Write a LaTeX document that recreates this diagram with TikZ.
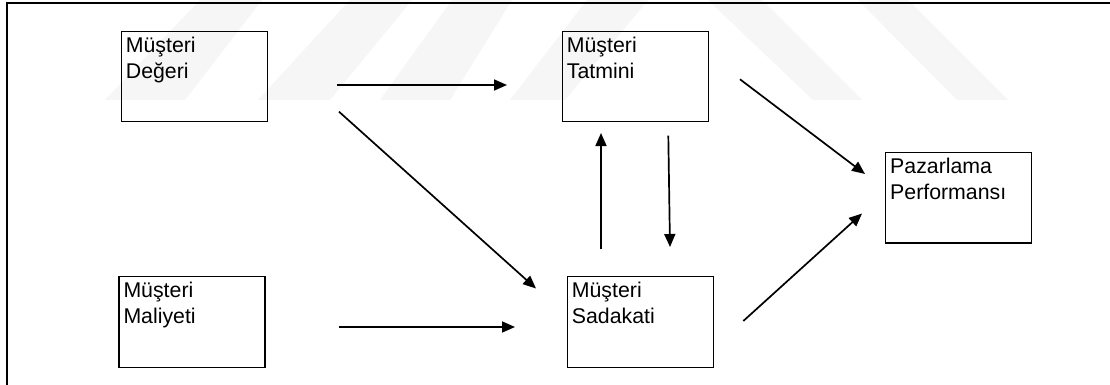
\documentclass[tikz,border=0pt]{standalone}
\usepackage{fontspec}
\setmainfont{Liberation Sans}
\usetikzlibrary{arrows.meta,calc}

\tikzset{
  box/.style={draw=black, line width=1.3pt, minimum width=146pt, minimum height=90.5pt,
              inner sep=0pt, anchor=north west},
  lbl/.style={anchor=north west, inner sep=0pt, align=left,
              font=\fontsize{21.3}{26}\selectfont},
  link/.style={line width=1.7pt, -{Triangle[length=13pt,width=11pt]}},
  frame/.style={line width=2.2pt},
  band/.style={fill=gray!7, draw=none}
}

\begin{document}
\begin{tikzpicture}[x=1pt, y=-1pt]
\useasboundingbox (0,0) rectangle (1110,385);
\fill[white] (0,0) rectangle (1110,385);

% faint background stripes
\fill[band] (105,100) -- (185,100) -- (262,0) -- (200,0) -- cycle;
\fill[band] (258,100) -- (330,100) -- (412,0) -- (350,0) -- cycle;
\fill[band] (380,100) -- (450,100) -- (512,0) -- (452,0) -- cycle;
\fill[band] (510,100) -- (565,100) -- (648,0) -- (587,0) -- cycle;
\fill[band] (813,100) -- (862,100) -- (762,0) -- (708,0) -- cycle;
\fill[band] (957,100) -- (1008,100) -- (908,0) -- (858,0) -- cycle;

% outer frame (only the top and left sides fall inside the page)
\draw[frame] (7.3,385) -- (7.3,2.7) -- (1110,2.7);

% boxes
\node[box] (deger)  at (120.7,30.7) {};
\node[box] (tatmin) at (561.7,30.7) {};
\node[box] (perf)   at (885,151.7) {};
\node[box] (malyt)  at (118.3,276) {};
\node[box] (sadak)  at (566.7,276) {};

% box texts
\node[lbl] (tdeger)  at ($(deger.north west)+(5,5.7)$)  {Müşteri\\Değeri};
\node[lbl] (ttatmin) at ($(tatmin.north west)+(5,5.7)$) {Müşteri\\Tatmini};
\node[lbl] (tperf)   at ($(perf.north west)+(5,5.7)$)   {Pazarlama\\Performansı};
\node[lbl] (tmalyt)  at ($(malyt.north west)+(5,5.7)$)  {Müşteri\\Maliyeti};
\node[lbl] (tsadak)  at ($(sadak.north west)+(5,5.7)$)  {Müşteri\\Sadakati};

% free ends of the connectors
\coordinate (d1) at (337,85);
\coordinate (t1) at (507,85);
\coordinate (d2) at (339,111.7);
\coordinate (s1) at (536,288.5);
\coordinate (m1) at (339,327);
\coordinate (s2) at (515,327);
\coordinate (s3) at (601,249);
\coordinate (t2) at (601,133);
\coordinate (t3) at (668.3,135.7);
\coordinate (s4) at (670,247);
\coordinate (t4) at (740,79.3);
\coordinate (p1) at (865,174);
\coordinate (s5) at (743.3,321);
\coordinate (p2) at (862,213.5);

% connectors
\draw[link] (d1) -- (t1);
\draw[link] (d2) -- (s1);
\draw[link] (m1) -- (s2);
\draw[link] (s3) -- (t2);
\draw[link] (t3) -- (s4);
\draw[link] (t4) -- (p1);
\draw[link] (s5) -- (p2);
\end{tikzpicture}
\end{document}
